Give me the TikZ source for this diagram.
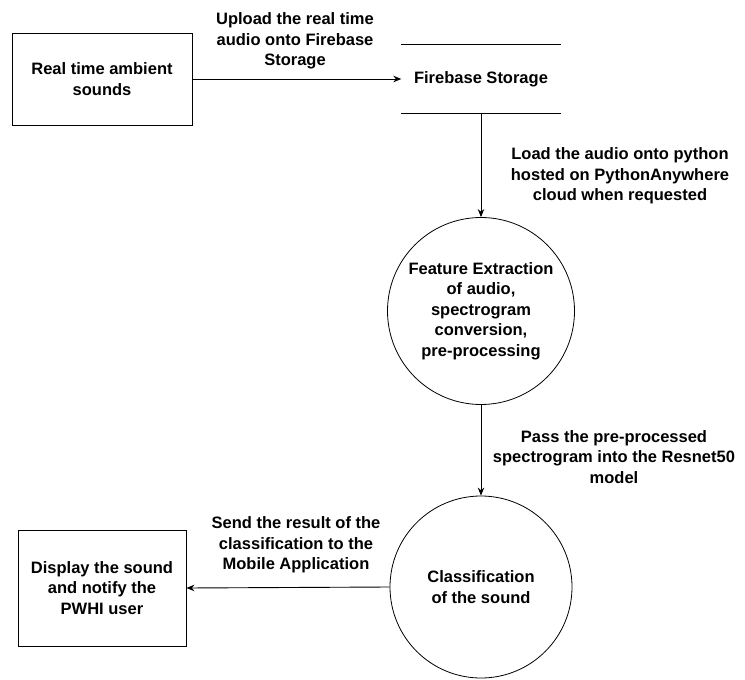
\documentclass[tikz,border=0pt]{standalone}
\usepackage{fontspec}
\setmainfont{Liberation Sans}
\usetikzlibrary{arrows.meta}
\begin{document}
\begin{tikzpicture}[x=1pt,y=-1pt,
  every node/.style={font=\bfseries\fontsize{16.5}{20.5}\selectfont, align=center, inner sep=0pt},
  boxnode/.style={draw, line width=0.9pt, minimum width=#1},
  procnode/.style={draw, circle, line width=0.8pt, minimum size=#1},
  flow/.style={line width=0.9pt, -{Stealth[length=8pt,width=6.5pt]}},
  lbl/.style={}]
\useasboundingbox (0,0) rectangle (745,680);
\node[boxnode=180, minimum height=92] (src) at (102,79) {Real time ambient\\sounds};
\node[minimum width=159, minimum height=68] (fb) at (481,79) {Firebase Storage};
\draw[line width=0.9pt] (fb.north west) -- (fb.north east);
\draw[line width=0.9pt] (fb.south west) -- (fb.south east);
\node[procnode=187] (fe) at (481,311) {Feature Extraction\\of audio,\\spectrogram\\conversion,\\pre-processing};
\node[procnode=182] (cls) at (481,587) {Classification\\of the sound};
\node[boxnode=168, minimum height=116] (disp) at (102,588) {Display the sound\\and notify the\\PWHI user};
\draw[flow] (src.east) -- (fb.west);
\draw[flow] (fb.south) -- (fe.north);
\draw[flow] (fe.south) -- (cls.north);
\draw[flow] (cls.west) -- (disp.east);
\node[lbl] (l1) at (295,41) {Upload the real time\\audio onto Firebase\\Storage};
\node[lbl] (l2) at (620,176) {Load the audio onto python\\hosted on PythonAnywhere\\cloud when requested};
\node[lbl] (l3) at (614,457) {Pass the pre-processed\\spectrogram into the Resnet50\\model};
\node[lbl] (l4) at (296,545) {Send the result of the\\classification to the\\Mobile Application};
\end{tikzpicture}
\end{document}
